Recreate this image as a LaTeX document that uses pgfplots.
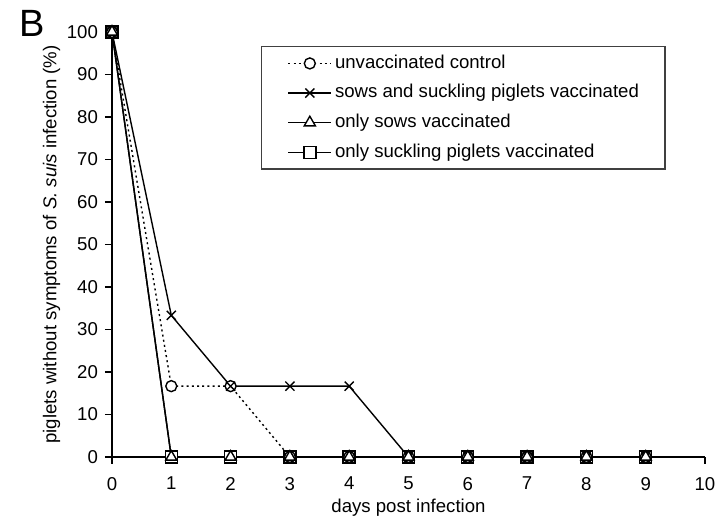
\documentclass[border=0pt]{standalone}
\usepackage{pgfplots}
\pgfplotsset{compat=1.18}
\usepackage{fontspec}
\setmainfont{Liberation Sans}

\pgfplotsset{
  lgimg/.style={legend image code/.code={%
    \draw[mark repeat=2,mark phase=2,##1] plot coordinates {(0pt,0pt) (10.75pt,0pt) (21.5pt,0pt)};}},
}

\begin{document}
\begin{tikzpicture}
\useasboundingbox (-56pt,-31.5pt) rectangle (303.5pt,228.5pt);
\begin{axis}[
  scale only axis,
  width=296.5pt, height=212.5pt,
  xmin=0, xmax=10, ymin=0, ymax=100,
  axis x line*=bottom, axis y line*=left,
  axis line style={line width=0.7pt},
  tick align=outside,
  major tick length=3.5pt,
  tick style={line width=0.7pt, black},
  xtick={0,...,10}, ytick={0,10,...,100},
  /pgf/number format/assume math mode=true,
  tick label style={font=\fontsize{9.3}{11}\selectfont},
  xticklabel style={yshift=-3pt},
  label style={font=\fontsize{9.3}{11}\selectfont},
  xlabel={days post infection},
  xlabel style={at={(rel axis cs:0.5,0)}, anchor=center, yshift=-25.5pt},
  ylabel={piglets without symptoms of \textit{S. suis} infection (\%)},
  ylabel style={at={(rel axis cs:-0.102,0.5)}, anchor=center},
  clip=false,
  legend cell align=left,
  legend style={
    at={(rel axis cs:0.2513,0.967)}, anchor=north west,
    draw=black!75, line width=0.6pt,
    font=\fontsize{9.3}{11}\selectfont,
    inner xsep=13pt, inner ysep=4pt,
    row sep=6pt, column sep=1.5pt,
    nodes={inner sep=0pt, text height=6.8pt, text depth=2pt},
  },
  lgimg,
]
% only suckling piglets vaccinated (squares, drawn underneath the others)
\addplot[black, line width=0.7pt, mark=square*, mark size=3pt,
  mark options={fill=white, solid}, forget plot]
  coordinates {(0,100) (1,0) (2,0) (3,0) (4,0) (5,0) (6,0) (7,0) (8,0) (9,0)};
% unvaccinated control
\addplot[black, line width=0.7pt, dash pattern=on 1pt off 1.6pt,
  mark=*, mark size=2.75pt, mark options={fill=white, solid}]
  coordinates {(0,100) (1,16.67) (2,16.67) (3,0) (4,0) (5,0) (6,0) (7,0) (8,0) (9,0)};
\addlegendentry{unvaccinated control}
% sows and suckling piglets vaccinated
\addplot[black, line width=0.7pt, mark=x, mark size=3.2pt, mark options={solid}]
  coordinates {(0,100) (1,33.33) (2,16.67) (3,16.67) (4,16.67) (5,0) (6,0) (7,0) (8,0) (9,0)};
\addlegendentry{sows and suckling piglets vaccinated}
% only sows vaccinated
\addplot[black, line width=0.7pt, mark=triangle*, mark size=3.2pt,
  mark options={fill=white, solid}]
  coordinates {(0,100) (1,0) (2,0) (3,0) (4,0) (5,0) (6,0) (7,0) (8,0) (9,0)};
\addlegendentry{only sows vaccinated}
\addlegendimage{black, line width=0.7pt, mark=square*, mark size=3pt, mark options={fill=white, solid}}
\addlegendentry{only suckling piglets vaccinated}
\node[font=\fontsize{19}{22}\selectfont] at (rel axis cs:-0.135,1.021) {B};
\end{axis}
\end{tikzpicture}
\end{document}
